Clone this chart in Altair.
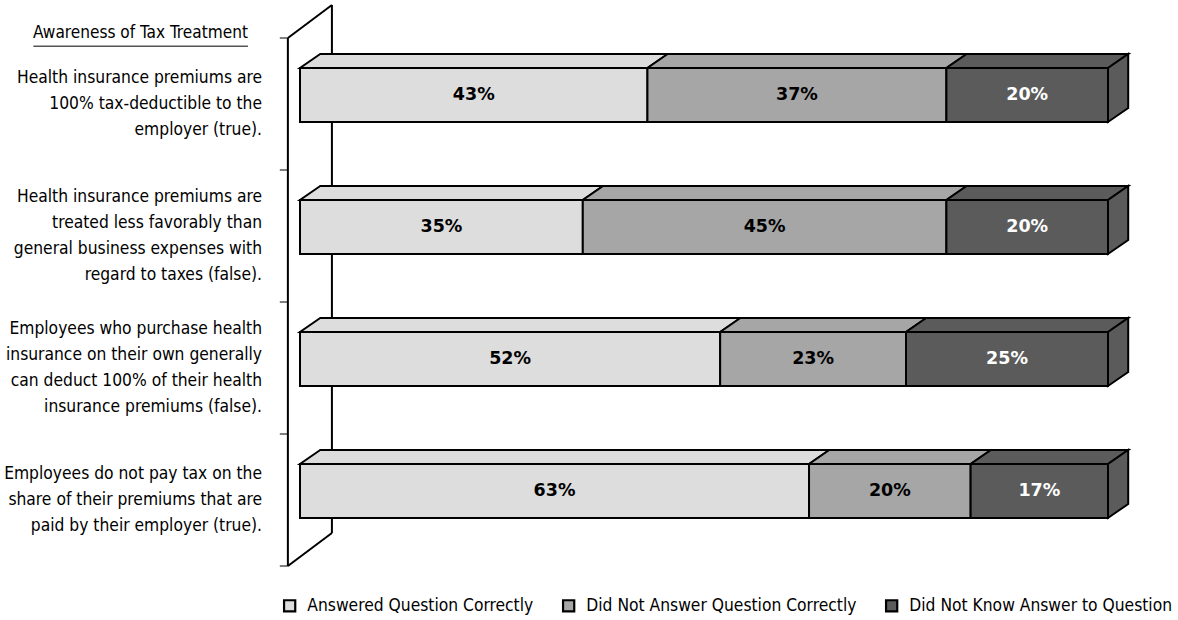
import altair as alt
import pandas as pd

# ---------------- data ----------------
title_text = "Awareness of Tax Treatment"
questions = [
    ["Health insurance premiums are", "100% tax-deductible to the", "employer (true)."],
    ["Health insurance premiums are", "treated less favorably than", "general business expenses with", "regard to taxes (false)."],
    ["Employees who purchase health", "insurance on their own generally", "can deduct 100% of their health", "insurance premiums (false)."],
    ["Employees do not pay tax on the", "share of their premiums that are", "paid by their employer (true)."],
]
series = ["Answered Question Correctly", "Did Not Answer Question Correctly", "Did Not Know Answer to Question"]
correct = [43, 35, 52, 63]
incorrect = [37, 45, 23, 20]
dont_know = [20, 20, 25, 17]
colors = ["#DDDDDD", "#A6A6A6", "#5B5B5B"]
text_colors = ["#000000", "#000000", "#FFFFFF"]

# ---------------- geometry (data units) ----------------
BAR_TOP = 0.227      # offset of front face top within category band
BAR_BOT = 0.636
DX = 2.5             # 3D depth in % units
DY = 0.106           # 3D depth in band units
WALL_X = -1.5
WALL_DX = 5.45
WALL_DY = 0.25
LABEL_X = -4.7
N = len(questions)
PX_PER_BAND = 132
LINE_H = 26

FONT = "'DejaVu Sans Condensed', sans-serif"
FS = 17.3

vals = [correct, incorrect, dont_know]
front_rows, top_rows, side_rows, lab_rows = [], [], [], []
for i in range(N):
    cum = 0
    yt, yb = i + BAR_TOP, i + BAR_BOT
    for s, name in enumerate(series):
        v = vals[s][i]
        x0, x1 = cum, cum + v
        cum = x1
        key = f"{i}-{s}"
        front_rows.append(dict(series=name, x0=x0, x1=x1, yt=yt, yb=yb))
        top_rows.append(dict(series=name, key=key, y=yt, xa=x0, xb=x1))
        top_rows.append(dict(series=name, key=key, y=yt - DY, xa=x0 + DX, xb=x1 + DX))
        lab_rows.append(dict(series=name, x=(x0 + x1) / 2, y=(yt + yb) / 2, label=f"{v}%"))
        if s == len(series) - 1:
            side_rows.append(dict(series=name, key=key, x=x1, ya=yt, yb=yb))
            side_rows.append(dict(series=name, key=key, x=x1 + DX, ya=yt - DY, yb=yb - DY))

front_df = pd.DataFrame(front_rows)
top_df = pd.DataFrame(top_rows)
side_df = pd.DataFrame(side_rows)
lab_df = pd.DataFrame(lab_rows)

# first line of each multi-line label placed so the block is centred on its band
q_df = pd.DataFrame(dict(
    text=["\n".join(q) for q in questions],
    y=[i + 0.5 - (len(q) - 1) / 2 * LINE_H / PX_PER_BAND for i, q in enumerate(questions)],
    x=[LABEL_X] * N))

wall_df = pd.DataFrame([
    dict(x=WALL_X, x2=WALL_X, y=0, y2=N),
    dict(x=WALL_X + WALL_DX, x2=WALL_X + WALL_DX, y=-WALL_DY, y2=N - WALL_DY),
    dict(x=WALL_X, x2=WALL_X + WALL_DX, y=0, y2=-WALL_DY),
    dict(x=WALL_X, x2=WALL_X + WALL_DX, y=N, y2=N - WALL_DY),
])
tick_df = pd.DataFrame(dict(x=[WALL_X - 1.0] * (N + 1), x2=[WALL_X] * (N + 1), y=list(range(N + 1))))

xs = alt.Scale(domain=[0, 100], nice=False, zero=False)
ys = alt.Scale(domain=[0, N], nice=False, zero=False, reverse=True)
cs = alt.Scale(domain=series, range=colors)

legend = alt.Legend(
    title=None, orient="none", legendX=-19, legendY=559, direction="horizontal",
    columnPadding=24,
    symbolType="square", symbolSize=125, symbolStrokeColor="black", symbolStrokeWidth=2.2,
    symbolOpacity=1,
    labelFont=FONT, labelFontSize=FS, labelColor="black", labelOffset=9, labelLimit=400)

wall = alt.Chart(wall_df).mark_rule(color="black", strokeWidth=2).encode(
    x=alt.X("x:Q", scale=xs, axis=None), x2="x2:Q",
    y=alt.Y("y:Q", scale=ys, axis=None), y2="y2:Q")

ticks = alt.Chart(tick_df).mark_rule(color="black", strokeWidth=1).encode(
    x=alt.X("x:Q", scale=xs, axis=None), x2="x2:Q",
    y=alt.Y("y:Q", scale=ys, axis=None))

top = alt.Chart(top_df).mark_area(orient="horizontal", stroke="black", strokeWidth=2, opacity=1).encode(
    y=alt.Y("y:Q", scale=ys, axis=None),
    x=alt.X("xa:Q", scale=xs, axis=None), x2="xb:Q",
    detail="key:N",
    fill=alt.Fill("series:N", scale=cs, sort=series, legend=legend))

side = alt.Chart(side_df).mark_area(orient="vertical", stroke="black", strokeWidth=2, opacity=1).encode(
    x=alt.X("x:Q", scale=xs, axis=None),
    y=alt.Y("ya:Q", scale=ys, axis=None), y2="yb:Q",
    detail="key:N",
    fill=alt.Fill("series:N", scale=cs, sort=series, legend=legend))

front = alt.Chart(front_df).mark_rect(stroke="black", strokeWidth=2, opacity=1).encode(
    x=alt.X("x0:Q", scale=xs, axis=None), x2="x1:Q",
    y=alt.Y("yt:Q", scale=ys, axis=None), y2="yb:Q",
    fill=alt.Fill("series:N", scale=cs, sort=series, legend=legend))

pct = alt.Chart(lab_df).mark_text(font="DejaVu Sans", fontSize=17.5, fontWeight="bold", baseline="middle", align="center").encode(
    x=alt.X("x:Q", scale=xs, axis=None),
    y=alt.Y("y:Q", scale=ys, axis=None),
    text="label:N",
    color=alt.Color("series:N", scale=alt.Scale(domain=series, range=text_colors), legend=None))

qlabels = alt.Chart(q_df).mark_text(font=FONT, fontSize=FS, align="right", baseline="middle", lineBreak="\n", lineHeight=LINE_H, color="black").encode(
    x=alt.X("x:Q", scale=xs, axis=None),
    y=alt.Y("y:Q", scale=ys, axis=None),
    text="text:N")

title_df = pd.DataFrame(dict(text=[title_text], x=[-6.44], y=[-0.035], xa=[-33.0], xb=[-6.44], yu=[0.062]))
title_txt = alt.Chart(title_df).mark_text(font=FONT, fontSize=17.1, align="right", baseline="middle", color="black").encode(
    x=alt.X("x:Q", scale=xs, axis=None), y=alt.Y("y:Q", scale=ys, axis=None), text="text:N")
title_rule = alt.Chart(title_df).mark_rule(color="black", strokeWidth=1).encode(
    x=alt.X("xa:Q", scale=xs, axis=None), x2="xb:Q", y=alt.Y("yu:Q", scale=ys, axis=None))

chart = alt.layer(wall, ticks, top, side, front, pct, qlabels, title_txt, title_rule).resolve_scale(
    fill="shared", color="independent"
).properties(
    width=808, height=528,
    autosize=alt.AutoSizeParams(type="none"),
    padding={"left": 300, "top": 38, "right": 70, "bottom": 54},
    background="white",
).configure_view(stroke=None)

chart.save("out.html", embed_options={"renderer": "svg", "actions": False})
